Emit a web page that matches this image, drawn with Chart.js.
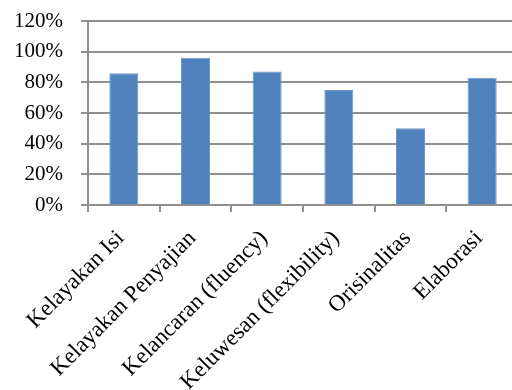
<!DOCTYPE html>
<html>
<head>
<meta charset="utf-8">
<script src="https://cdn.jsdelivr.net/npm/chart.js@4.4.1/dist/chart.umd.min.js"></script>
<style>
html,body{margin:0;padding:0;overflow:hidden;background:#fff;}
#wrap{width:518px;height:390px;position:relative;}
</style>
</head>
<body>
<div id="wrap"><canvas id="c" width="518" height="390"></canvas></div>
<script>
const categories = ["Kelayakan Isi", "Kelayakan Penyajian", "Kelancaran (fluency)", "Keluwesan (flexibility)", "Orisinalitas", "Elaborasi"];
const values = [86, 96, 87, 75, 50, 83];
const yMin = 0, yMax = 120, yStep = 20;

const family = "'Liberation Serif', 'Times New Roman', serif";

new Chart(document.getElementById('c'), {
  type: 'bar',
  data: {
    labels: categories,
    datasets: [{
      data: values,
      backgroundColor: '#4F81BD',
      borderColor: '#6F97CB',
      borderWidth: 1,
      barPercentage: 0.57,
      categoryPercentage: 0.71
    }]
  },
  options: {
    responsive: false,
    animation: false,
    events: [],
    layout: {padding: {top: 21, left: 11, right: 0, bottom: 0}},
    plugins: {legend: {display: false}, tooltip: {enabled: false}},
    scales: {
      x: {
        grid: {display: true, drawOnChartArea: false, color: '#909090', tickLength: 7, offset: true, lineWidth: 2},
        border: {color: '#909090', width: 2},
        ticks: {color: '#000', font: {family: family, size: 23}, maxRotation: 45, minRotation: 45, padding: 13, labelOffset: -3, autoSkip: false},
        afterFit: s => { s.height = 185; s.paddingLeft = 0; s.paddingRight = 0; }
      },
      y: {
        min: yMin, max: yMax,
        grid: {color: '#909090', lineWidth: 2, tickLength: 7},
        border: {color: '#909090', width: 2},
        ticks: {color: '#000', font: {family: family, size: 21}, stepSize: yStep, padding: 18, callback: v => v + '%'},
        afterFit: s => { s.width = 77; s.paddingTop = 0; s.paddingBottom = 0; }
      }
    }
  }
});
</script>
</body>
</html>
